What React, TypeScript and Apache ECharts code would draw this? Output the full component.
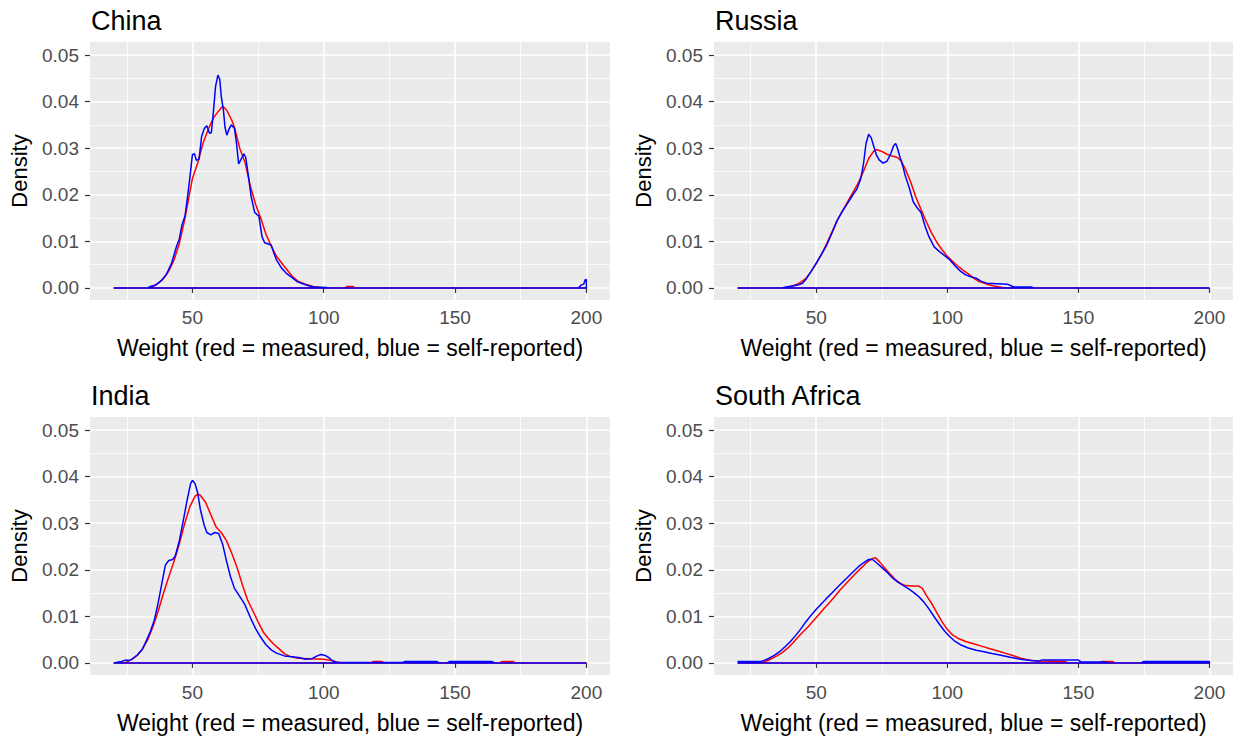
import React, { useEffect, useRef } from "react";
import * as echarts from "echarts";

const countries = ["China", "Russia", "India", "South Africa"];
const xAxisTitle = "Weight (red = measured, blue = self-reported)";
const yAxisTitle = "Density";
const xRange = [20, 200];
const xLimits = [11, 209];
const yLimits = [-0.0026, 0.0528];
const xMajorTicks = [50, 100, 150, 200];
const xMinorTicks = [25, 75, 125, 175];
const yMajorTicks = [0, 0.01, 0.02, 0.03, 0.04, 0.05];
const yMinorTicks = [0.005, 0.015, 0.025, 0.035, 0.045];

// China
const chinaMeasured: number[][] = [
  [20, 0], [34, 0], [35, 0.0003], [37, 0.001], [39, 0.002], [41, 0.0036], [43, 0.006], [45, 0.0095],
  [47, 0.0145], [49, 0.0205], [50, 0.0235], [52, 0.0268], [54, 0.031], [56, 0.034], [58, 0.0365],
  [60, 0.038], [61.5, 0.039], [63, 0.0382], [65, 0.036], [66, 0.0345], [68, 0.03], [70, 0.027],
  [72, 0.022], [74, 0.018], [76, 0.015], [78, 0.0115], [80, 0.009], [82, 0.0068], [85, 0.0046],
  [88, 0.0025], [90, 0.0015], [93, 0.0008], [96, 0.0003], [100, 0], [108, 0], [109, 0.0003],
  [111, 0.0003], [112, 0], [200, 0],
];
const chinaSelfReported: number[][] = [
  [20, 0], [33, 0], [34, 0.0003], [36, 0.0006], [38, 0.0015], [40, 0.0028], [42, 0.0052], [44, 0.009],
  [45, 0.0105], [46, 0.0135], [47.2, 0.0155], [48.2, 0.0198], [49, 0.0235], [50, 0.0286], [50.8, 0.0288],
  [51.5, 0.0274], [52.5, 0.0276], [53.5, 0.0325], [54.5, 0.0342], [55.5, 0.0348], [56.5, 0.0332],
  [57.2, 0.0333], [57.9, 0.0372], [58.8, 0.0432], [59.7, 0.0457], [60.4, 0.0448], [61, 0.041],
  [61.8, 0.0382], [62.4, 0.0345], [63.1, 0.0328], [64, 0.0342], [64.8, 0.035], [66, 0.0343],
  [66.8, 0.031], [67.6, 0.0266], [68.5, 0.0276], [69.6, 0.0288], [70.3, 0.028], [71.2, 0.0245],
  [72.4, 0.0195], [73.7, 0.0162], [75.3, 0.0154], [76.5, 0.011], [77.5, 0.0097], [80, 0.0092],
  [81, 0.0075], [82, 0.006], [84, 0.0042], [86, 0.003], [88, 0.0022], [90, 0.0013], [92, 0.0009],
  [94, 0.0005], [96, 0.0002], [101, 0.0001], [102, 0], [197, 0], [198, 0.0006], [199, 0.0008],
  [199.5, 0.0017], [200, 0.0018],
];

// Russia
const russiaMeasured: number[][] = [
  [20, 0], [39, 0], [40, 0.0003], [42, 0.0006], [44, 0.0012], [46, 0.002], [48, 0.0035], [50, 0.0052],
  [52, 0.0072], [54, 0.0095], [56, 0.012], [58, 0.0145], [60, 0.0165], [62, 0.0185], [64, 0.0205],
  [66, 0.0225], [68, 0.025], [70, 0.0278], [72, 0.0294], [73, 0.0297], [75, 0.0293], [77, 0.0287],
  [79, 0.0283], [81, 0.028], [82.5, 0.0272], [84, 0.0255], [86, 0.0228], [88, 0.0195], [90, 0.0168],
  [92, 0.0142], [94, 0.0118], [96, 0.0098], [98, 0.0082], [100, 0.0068], [102, 0.0057], [104, 0.0047],
  [106, 0.0038], [108, 0.003], [110, 0.0021], [112, 0.0014], [115, 0.0008], [118, 0.0004],
  [121, 0.0001], [123, 0], [200, 0],
];
const russiaSelfReported: number[][] = [
  [20, 0], [37, 0], [38.4, 0.0002], [41, 0.0004], [43, 0.0006], [44.8, 0.001], [46, 0.0018],
  [48, 0.0035], [50, 0.0053], [52, 0.0072], [54, 0.0092], [56, 0.0118], [58, 0.0145], [60, 0.0165],
  [62, 0.0182], [64, 0.02], [65.5, 0.0212], [67, 0.0235], [68, 0.0265], [69, 0.031], [70, 0.033],
  [71, 0.0322], [72, 0.0303], [73, 0.0285], [74, 0.0275], [75.5, 0.0268], [77, 0.0272], [78.5, 0.0289],
  [79.5, 0.0305], [80.3, 0.031], [81, 0.03], [82, 0.028], [83, 0.0262], [84, 0.024], [85.5, 0.0215],
  [87, 0.0185], [88.5, 0.0172], [90, 0.0162], [91.5, 0.0133], [93, 0.011], [95, 0.0088], [97, 0.0078],
  [99.5, 0.0067], [101, 0.006], [103, 0.0047], [105, 0.0036], [107, 0.0028], [109, 0.0024],
  [111, 0.0021], [113, 0.0014], [115, 0.001], [119, 0.0009], [123, 0.0008], [124.5, 0.0004],
  [125.5, 0.0002], [132, 0.0002], [133, 0], [200, 0],
];

// India
const indiaMeasured: number[][] = [
  [20, 0], [24, 0], [25, 0.0002], [27, 0.0008], [29, 0.0016], [31, 0.003], [33, 0.005], [35, 0.0078],
  [37, 0.0112], [39, 0.015], [41, 0.0185], [43, 0.0218], [45, 0.0255], [47, 0.0298], [49, 0.0335],
  [51, 0.0358], [52, 0.0362], [53, 0.036], [55, 0.0345], [57, 0.0318], [59, 0.0292], [61, 0.028],
  [63, 0.0262], [65, 0.0235], [67, 0.0205], [69, 0.0168], [71, 0.0135], [73, 0.0112], [75, 0.0088],
  [77, 0.0066], [79, 0.0052], [81, 0.004], [83, 0.003], [85, 0.002], [87, 0.0014], [90, 0.001],
  [95, 0.0009], [100, 0.0008], [103, 0.0005], [105, 0.0002], [107, 0], [118, 0], [119, 0.0003],
  [122, 0.0003], [123, 0], [167, 0], [168, 0.0003], [172, 0.0003], [173, 0], [200, 0],
];
const indiaSelfReported: number[][] = [
  [20, 0], [21, 0.0001], [23, 0.0003], [24.6, 0.0006], [26, 0.0005], [27, 0.0008], [29, 0.0017],
  [31, 0.003], [32, 0.0042], [34, 0.0068], [35.5, 0.0092], [37, 0.013], [38.5, 0.0175], [39.7, 0.021],
  [41, 0.022], [42.5, 0.0222], [43.5, 0.023], [45, 0.0262], [46.5, 0.0305], [48, 0.035], [49.3, 0.0385],
  [50, 0.0392], [51, 0.0385], [52, 0.0365], [53, 0.033], [54.5, 0.0295], [55.5, 0.028], [57, 0.0275],
  [58.5, 0.028], [60, 0.0278], [61.5, 0.0255], [63, 0.0218], [64.5, 0.0185], [66, 0.016], [68, 0.0143],
  [70, 0.0125], [72, 0.0098], [74, 0.0074], [76, 0.0055], [78, 0.0039], [80, 0.0028], [82, 0.0021],
  [85, 0.0015], [88, 0.0013], [91, 0.0011], [93, 0.0008], [95.5, 0.0009], [97.5, 0.0015], [99, 0.0018],
  [100.5, 0.0016], [102, 0.0011], [103.5, 0.0004], [105, 0.0001], [130, 0.0001], [131, 0.0003],
  [143, 0.0003], [144, 0], [147, 0], [148, 0.0003], [164, 0.0003], [165, 0], [200, 0],
];

// South Africa
const southAfricaMeasured: number[][] = [
  [20, 0], [29, 0], [31, 0.0004], [33, 0.0009], [35, 0.0015], [37, 0.0022], [39, 0.0031], [41, 0.0042],
  [43, 0.0055], [45, 0.0067], [47, 0.0078], [49, 0.0091], [51, 0.0104], [53, 0.0117], [55, 0.0129],
  [57, 0.0142], [59, 0.0156], [61, 0.0168], [63, 0.018], [65, 0.0192], [67, 0.0203], [69, 0.0214],
  [71, 0.0223], [72.5, 0.0226], [74, 0.0218], [76, 0.0205], [78, 0.0192], [80, 0.018], [82, 0.0171],
  [84, 0.0166], [87, 0.0165], [89, 0.0165], [90.5, 0.016], [92, 0.0145], [94, 0.0128], [96, 0.0108],
  [98, 0.0088], [100, 0.0072], [102, 0.006], [104, 0.0053], [107, 0.0046], [110, 0.0041], [113, 0.0036],
  [116, 0.0031], [119, 0.0026], [122, 0.0021], [125, 0.0016], [128, 0.001], [131, 0.0006],
  [134, 0.0004], [145, 0.0003], [146, 0], [158, 0], [159, 0.0003], [163, 0.0003], [164, 0], [200, 0],
];
const southAfricaSelfReported: number[][] = [
  [20, 0.0003], [29, 0.0003], [30, 0.0005], [32, 0.001], [34, 0.0016], [36, 0.0024], [38, 0.0034],
  [40, 0.0045], [42, 0.0058], [44, 0.0072], [46, 0.0088], [48, 0.0102], [50, 0.0115], [52, 0.0127],
  [54, 0.0139], [56, 0.015], [58, 0.0162], [60, 0.0173], [62, 0.0184], [64, 0.0195], [66, 0.0206],
  [68, 0.0215], [70, 0.0222], [71.5, 0.0222], [73, 0.0215], [75, 0.0205], [77, 0.0195], [79, 0.0183],
  [81, 0.0174], [83, 0.0167], [85, 0.016], [87, 0.0152], [89, 0.0143], [91, 0.0131], [93, 0.0116],
  [95, 0.0099], [97, 0.0083], [99, 0.0068], [101, 0.0056], [103, 0.0046], [105, 0.0039], [108, 0.0032],
  [111, 0.0027], [114, 0.0024], [117, 0.002], [120, 0.0017], [124, 0.0012], [128, 0.0008],
  [132, 0.0005], [135, 0.0004], [136, 0.0006], [150, 0.0006], [151, 0.0002], [160, 0.0002], [162, 0],
  [174, 0], [175, 0.0003], [200, 0.0003],
];

const measured = [chinaMeasured, russiaMeasured, indiaMeasured, southAfricaMeasured];
const selfReported = [chinaSelfReported, russiaSelfReported, indiaSelfReported, southAfricaSelfReported];

const FONT = "'Liberation Sans', Arial, sans-serif";

export default function App() {
  const ref = useRef<HTMLDivElement>(null);

  useEffect(() => {
    if (!ref.current) return;
    const chart = echarts.init(ref.current, null, { renderer: "svg" });

    const panels = [
      { left: 90, top: 42, width: 520, height: 258 },
      { left: 714, top: 42, width: 519, height: 258 },
      { left: 90, top: 417, width: 520, height: 258 },
      { left: 714, top: 417, width: 519, height: 258 },
    ];

    const closeLoop = (pts: number[][]) => [...pts, [xRange[1], 0], [xRange[0], 0]];

    const grid = panels.map((p) => ({
      left: p.left,
      top: p.top,
      width: p.width,
      height: p.height,
      show: true,
      backgroundColor: "#EBEBEB",
      borderWidth: 0,
    }));

    const majorX = panels.map((_, i) => ({
      type: "value",
      gridIndex: i,
      position: "bottom",
      min: xLimits[0],
      max: xLimits[1],
      name: xAxisTitle,
      nameLocation: "middle",
      nameGap: 36,
      nameTextStyle: { fontFamily: FONT, fontSize: 23, color: "#000" },
      axisLine: { show: false },
      axisTick: { show: true, length: 5, customValues: xMajorTicks, lineStyle: { color: "#333", width: 1.2 } },
      axisLabel: { customValues: xMajorTicks, margin: 8, fontFamily: FONT, fontSize: 19, color: "#4D4D4D" },
      splitLine: { show: true, lineStyle: { color: "#FFFFFF", width: 1.6 } },
    }));
    const minorX = panels.map((_, i) => ({
      type: "value",
      gridIndex: i,
      position: "top",
      min: xLimits[0],
      max: xLimits[1],
      axisLine: { show: false },
      axisTick: { show: false, customValues: xMinorTicks },
      axisLabel: { show: false, customValues: xMinorTicks },
      splitLine: { show: true, lineStyle: { color: "#FFFFFF", width: 0.8 } },
    }));
    const majorY = panels.map((_, i) => ({
      type: "value",
      gridIndex: i,
      position: "left",
      min: yLimits[0],
      max: yLimits[1],
      name: yAxisTitle,
      nameLocation: "middle",
      nameRotate: 90,
      nameGap: 60,
      nameTextStyle: { fontFamily: FONT, fontSize: 22, color: "#000" },
      axisLine: { show: false },
      axisTick: { show: true, length: 5, customValues: yMajorTicks, lineStyle: { color: "#333", width: 1.2 } },
      axisLabel: {
        customValues: yMajorTicks,
        margin: 11,
        fontFamily: FONT,
        fontSize: 19,
        color: "#4D4D4D",
        formatter: (v: number) => v.toFixed(2),
      },
      splitLine: { show: true, lineStyle: { color: "#FFFFFF", width: 1.6 } },
    }));
    const minorY = panels.map((_, i) => ({
      type: "value",
      gridIndex: i,
      position: "right",
      min: yLimits[0],
      max: yLimits[1],
      axisLine: { show: false },
      axisTick: { show: false, customValues: yMinorTicks },
      axisLabel: { show: false, customValues: yMinorTicks },
      splitLine: { show: true, lineStyle: { color: "#FFFFFF", width: 0.8 } },
    }));

    const series: any[] = [];
    countries.forEach((c, i) => {
      series.push({
        type: "line",
        name: c + " measured",
        xAxisIndex: i,
        yAxisIndex: i,
        data: closeLoop(measured[i]),
        showSymbol: false,
        symbol: "none",
        lineStyle: { color: "#FF0000", width: 1.5 },
        z: 3,
      });
      series.push({
        type: "line",
        name: c + " self-reported",
        xAxisIndex: i,
        yAxisIndex: i,
        data: closeLoop(selfReported[i]),
        showSymbol: false,
        symbol: "none",
        lineStyle: { color: "#0000FF", width: 1.5 },
        z: 4,
      });
    });

    const title = countries.map((c, i) => ({
      text: c,
      left: panels[i].left + 1,
      top: panels[i].top - 35,
      padding: 0,
      textStyle: { fontFamily: FONT, fontSize: 27, fontWeight: "normal", color: "#000" },
    }));

    chart.setOption({
      animation: false,
      backgroundColor: "#FFFFFF",
      title,
      grid,
      xAxis: [...majorX, ...minorX],
      yAxis: [...majorY, ...minorY],
      series,
    });

    return () => chart.dispose();
  }, []);

  return (
    <div
      ref={ref}
      style={{ position: "absolute", left: 0, top: 0, width: 1242, height: 739, background: "#fff" }}
    />
  );
}
